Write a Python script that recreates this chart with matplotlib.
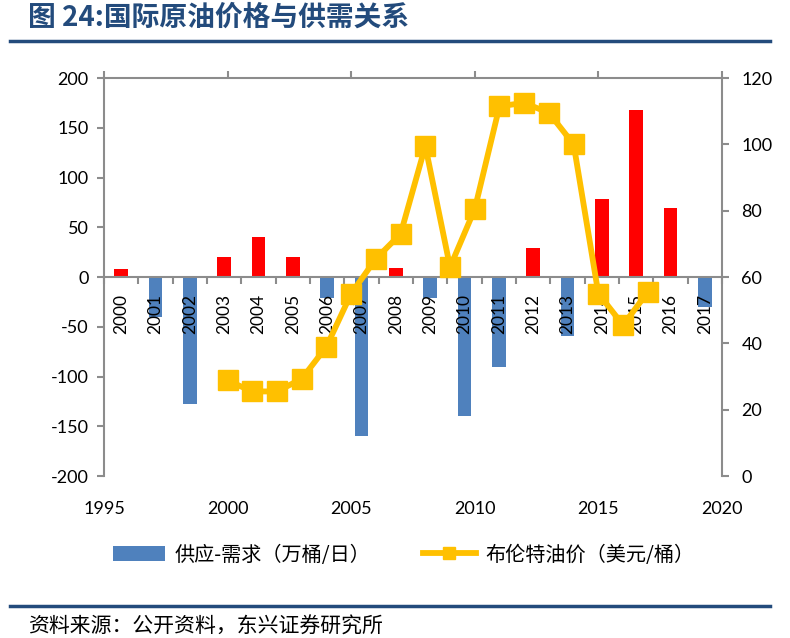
import numpy as np
import matplotlib.pyplot as plt
from matplotlib.lines import Line2D
from matplotlib.patches import Patch

plt.rcParams['font.family'] = ['Lato', 'Noto Sans CJK SC', 'DejaVu Sans']
plt.rcParams['axes.unicode_minus'] = False

# data
years = [2000, 2001, 2002, 2003, 2004, 2005, 2006, 2007, 2008,
         2009, 2010, 2011, 2012, 2013, 2014, 2015, 2016, 2017]
supply_demand = [8, -40, -128, 20, 40, 20, -21, -160, 9,
                 -21, -140, -90, 29, -59, 78, 168, 69, -30]
brent = [28.8, 25.5, 25.5, 29.3, 39, 55, 65.5, 73, 99.5,
         63, 80.5, 111.5, 112.5, 109.5, 100, 55, 45.5, 55.5]
year_ticks = [1995, 2000, 2005, 2010, 2015, 2020]

gray = '#8c8c8c'
blue = '#4F81BD'
red = '#FF0000'
gold = '#FFC000'
navy = '#234B7C'

fig = plt.figure(figsize=(7.9, 6.38), dpi=100)
rect = [0.1316, 0.2539, 0.7823, 0.6238]

# bars: supply minus demand, on category axis
ax = fig.add_axes(rect)
ax.set_axisbelow(False)
bar_colors = [red if v > 0 else blue for v in supply_demand]
ax.bar(np.arange(len(years)), supply_demand, width=0.4, color=bar_colors, zorder=1)
ax.set_xlim(-0.5, len(years) - 0.5)
ax.set_ylim(-200, 200)
ax.set_yticks(np.arange(-200, 201, 50))
for s in ['top', 'right']:
    ax.spines[s].set_visible(False)
ax.spines['left'].set_color(gray)
ax.spines['left'].set_linewidth(1.5)
ax.spines['bottom'].set_position(('data', 0))
ax.spines['bottom'].set_color(gray)
ax.spines['bottom'].set_linewidth(1.5)
ax.set_xticks(np.arange(len(years)))
ax.set_xticklabels([str(y) for y in years], rotation=90, fontsize=12.5, va='top')
ax.set_xticks(np.arange(-0.5, len(years), 1), minor=True)
ax.tick_params(axis='x', which='major', length=0, pad=12)
ax.tick_params(axis='x', which='minor', length=5, width=1.5, color=gray, direction='out')
ax.tick_params(axis='y', length=5, width=1.5, color=gray, labelsize=13, pad=6)

# brent price line, on year axis
ax2 = fig.add_axes(rect)
ax2.patch.set_visible(False)
ax2.plot(years, brent, color=gold, lw=4.2, marker='s', markersize=14,
         solid_joinstyle='round', zorder=3)
ax2.set_xlim(1995, 2020)
ax2.set_ylim(0, 120)
ax2.set_xticks(year_ticks)
ax2.set_yticks(np.arange(0, 121, 20))
for s in ['left', 'bottom']:
    ax2.spines[s].set_visible(False)
for s in ['top', 'right']:
    ax2.spines[s].set_color(gray)
    ax2.spines[s].set_linewidth(1.5)
ax2.yaxis.tick_right()
ax2.tick_params(axis='y', left=False, right=True, labelleft=False, labelright=True,
                length=5, width=1.5, color=gray, labelsize=13, pad=9)
ax2.tick_params(axis='x', bottom=False, top=True, labelbottom=True, labeltop=False,
                length=5, width=1.5, color=gray, labelsize=13, pad=13)

# title and rules
fig.text(0.036, 0.973, '图 24:国际原油价格与供需关系', fontsize=20, fontweight='bold',
         color=navy, family=['Noto Sans CJK SC'], va='center', ha='left')
fig.add_artist(Line2D([0.013, 0.975], [0.935, 0.935], color=navy, lw=2.5))
fig.add_artist(Line2D([0.013, 0.975], [0.05, 0.05], color=navy, lw=2.5))
fig.text(0.036, 0.017, '资料来源：公开资料，东兴证券研究所', fontsize=15,
         family=['Noto Sans CJK SC'], va='center', ha='left')

# legend
handles = [Patch(facecolor=blue),
           Line2D([], [], color=gold, lw=4.2, marker='s', markersize=9)]
fig.legend(handles, ['供应-需求（万桶/日）', '布伦特油价（美元/桶）'],
           loc='center', bbox_to_anchor=(0.511, 0.13), ncol=2, frameon=False,
           handlelength=2.6, handleheight=0.8, handletextpad=0.5, columnspacing=2.6,
           prop={'family': ['Noto Sans CJK SC'], 'size': 14.5})

fig.savefig('out.png', dpi=100)
